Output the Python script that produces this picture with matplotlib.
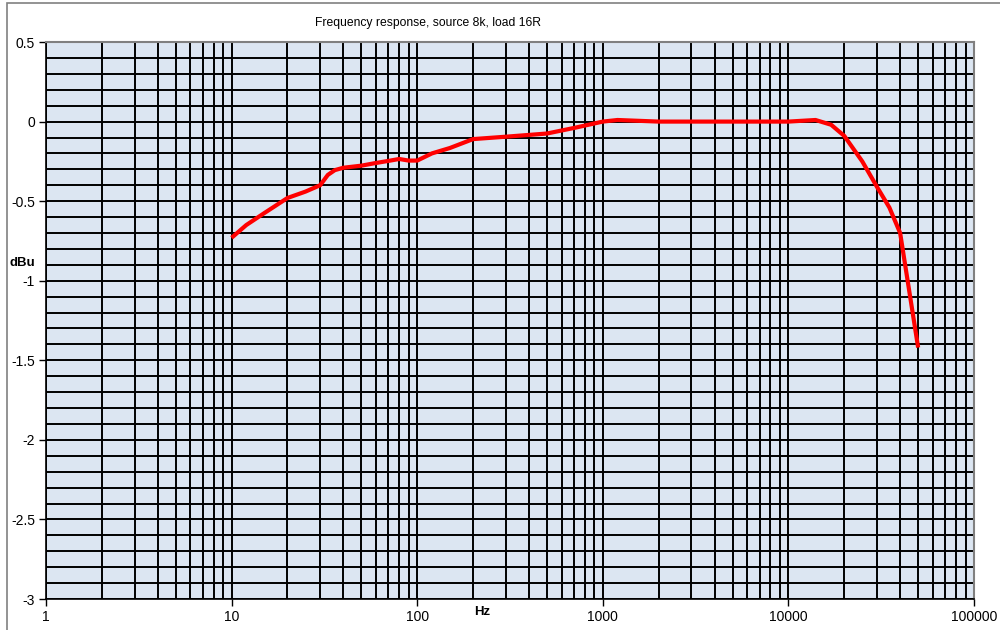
import matplotlib
matplotlib.use('Agg')
import matplotlib.pyplot as plt
from matplotlib.patches import Rectangle
from matplotlib.ticker import FixedLocator, NullFormatter

plt.rcParams['font.family'] = ['Liberation Sans', 'DejaVu Sans']

# DATA
freq_hz = [10, 12, 15, 20, 25, 30, 33, 36, 40, 50, 60, 70, 80, 90, 100, 120, 150,
           200, 300, 500, 700, 1000, 1200, 2000, 5000, 10000, 14000, 17000, 20000,
           25000, 30000, 35000, 40000, 50000]
level_dbu = [-0.73, -0.65, -0.575, -0.48, -0.44, -0.40, -0.335, -0.305, -0.29, -0.277,
             -0.26, -0.247, -0.235, -0.245, -0.245, -0.20, -0.166, -0.11, -0.095,
             -0.075, -0.04, 0.0, 0.01, 0.0, 0.0, 0.0, 0.01, -0.02, -0.09, -0.25, -0.41,
             -0.54, -0.70, -1.42]
title = 'Frequency response, source 8k, load 16R'
x_ticks = [1, 10, 100, 1000, 10000, 100000]
x_tick_labels = ['1', '10', '100', '1000', '10000', '100000']
y_ticks = [0.5, 0, -0.5, -1, -1.5, -2, -2.5, -3]
y_tick_labels = ['0.5', '0', '-0.5', '-1', '-1.5', '-2', '-2.5', '-3']

fig = plt.figure(figsize=(10, 6.3), dpi=100)
# outer chart frame (only left and top edges fall inside the image)
fig.patches.append(Rectangle((0.007, -0.05), 1.1, 1.045, transform=fig.transFigure,
                             fill=False, edgecolor='#808080', linewidth=1.2))
ax = fig.add_axes([0.046, 0.0492, 0.928, 0.8841])
ax.set_facecolor('#DCE6F2')

ax.set_xscale('log')
ax.set_xlim(1, 100000)
ax.set_ylim(-3, 0.5)

# grid: every 1..9 per decade and every 0.1 dB
minor_x = [m * 10 ** d for d in range(5) for m in range(2, 10)]
ax.xaxis.set_minor_locator(FixedLocator(minor_x))
ax.xaxis.set_minor_formatter(NullFormatter())
ax.set_xticks(x_ticks)
ax.set_xticklabels(x_tick_labels)
ax.set_yticks(y_ticks)
ax.set_yticklabels(y_tick_labels)
ax.yaxis.set_minor_locator(FixedLocator([v / 10 for v in range(-30, 6)]))
ax.grid(True, which='both', color='black', linewidth=1.4)
ax.set_axisbelow(True)

ax.tick_params(axis='both', which='major', direction='out', length=5, width=1,
               labelsize=10, colors='black', pad=3)
ax.tick_params(axis='both', which='minor', length=0)

for s in ['top', 'right']:
    ax.spines[s].set_color('#808080')
    ax.spines[s].set_linewidth(1.5)
for s in ['left', 'bottom']:
    ax.spines[s].set_color('black')
    ax.spines[s].set_linewidth(1.2)

ax.plot(freq_hz, level_dbu, color='#FF0000', linewidth=3, solid_capstyle='butt',
        solid_joinstyle='round', zorder=5)

fig.text(0.428, 0.963, title, ha='center', va='center', fontsize=8.7)
fig.text(0.022, 0.582, 'dBu', ha='center', va='center', fontsize=9.5, fontweight='bold')
fig.text(0.482, 0.028, 'Hz', ha='center', va='center', fontsize=9.5, fontweight='bold')

fig.savefig('out.png', dpi=100)
